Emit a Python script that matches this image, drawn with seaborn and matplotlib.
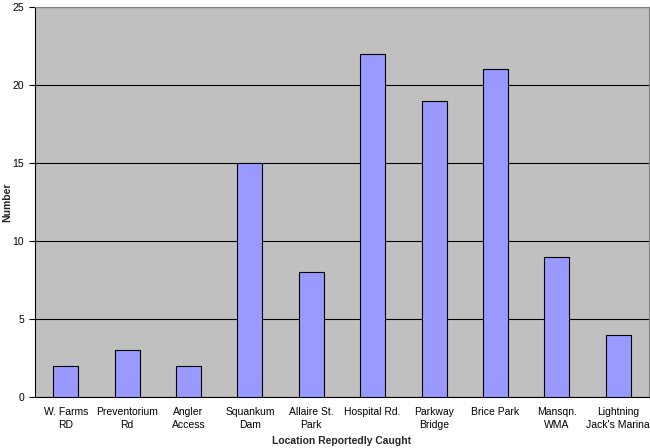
import matplotlib
matplotlib.use("Agg")
import matplotlib.pyplot as plt
import seaborn as sns
import pandas as pd
import numpy as np

categories = ["W. Farms\nRD", "Preventorium\nRd", "Angler\nAccess", "Squankum\nDam",
              "Allaire St.\nPark", "Hospital Rd.", "Parkway\nBridge", "Brice Park",
              "Mansqn.\nWMA", "Lightning\nJack's Marina"]
values = [2, 3, 2, 15, 8, 22, 19, 21, 9, 4]

sns.set_theme(style="white")
plt.rcParams['font.family'] = ['Liberation Sans', 'DejaVu Sans']

df = pd.DataFrame({"loc": categories, "n": values})

fig = plt.figure(figsize=(6.5, 4.48), dpi=100)
ax = fig.add_axes([35/650, 1-397/448, 614/650, 390/448])
ax.set_facecolor("#C0C0C0")

sns.barplot(data=df, x="loc", y="n", ax=ax, color="#9999FF", width=0.41,
            edgecolor="#000000", linewidth=0.8, saturation=1, zorder=3)

ax.set_ylim(0, 25)
ax.set_xlim(-0.5, len(categories) - 0.5)
ax.set_yticks([0, 5, 10, 15, 20, 25])
ax.yaxis.grid(True, color="black", linewidth=0.8, zorder=1)
ax.set_axisbelow(True)

ax.tick_params(axis="x", which="major", length=0, labelsize=7.5, pad=7, colors="black")
for lbl in ax.get_xticklabels():
    lbl.set_linespacing(1.35)
ax.set_xticks(np.arange(-0.5, len(categories), 1), minor=True)
ax.tick_params(axis="x", which="minor", length=4, width=0.8, direction="out", color="black")
ax.tick_params(axis="y", length=4, width=0.8, direction="out", pad=4, labelsize=7.5, colors="black", left=True)

for s in ["left", "bottom"]:
    ax.spines[s].set_color("black")
    ax.spines[s].set_linewidth(0.8)
for s in ["top", "right"]:
    ax.spines[s].set_color("#808080")
    ax.spines[s].set_linewidth(0.8)

ax.set_xlabel("Location Reportedly Caught", fontsize=7.5, fontweight="bold")
ax.xaxis.set_label_coords(0.5, -(441 - 397) / 390, transform=ax.transAxes)
ax.xaxis.label.set_va("center")
ax.set_ylabel("Number", fontsize=7.5, fontweight="bold")
ax.yaxis.set_label_coords(-(35 - 7) / 614, 0.5, transform=ax.transAxes)
ax.yaxis.label.set_va("center")

fig.savefig("out.png", dpi=100)
